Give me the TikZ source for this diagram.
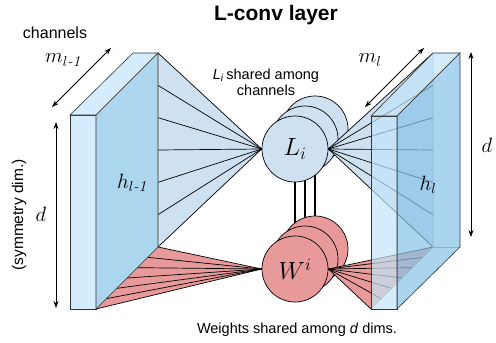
\documentclass[tikz,border=0pt]{standalone}
\usepackage{amsmath}
\usepackage{fontspec}
\setsansfont{Liberation Sans}
\usetikzlibrary{arrows.meta}
\definecolor{slablight}{HTML}{D4ECFB}
\definecolor{slabdark}{HTML}{ACD5EE}
\definecolor{rslablight}{HTML}{C2E4F9}
\definecolor{rslabdark}{HTML}{88C3E7}
\definecolor{fanblue}{HTML}{CFE0F1}
\definecolor{fanred}{HTML}{E8999A}
\begin{document}
\begin{tikzpicture}[x=1pt,y=-1pt,
  ball/.style={circle,draw=black,line width=0.7pt,minimum size=66pt,inner sep=0pt},
  lball/.style={ball,fill=fanblue},
  wball/.style={ball,fill=fanred},
  fanline/.style={line width=0.7pt,draw=black},
  link/.style={line width=1.3pt,draw=black},
  edge/.style={line width=0.6pt,draw=black!80},
  dim/.style={{Stealth[length=7pt,width=5pt]}-{Stealth[length=7pt,width=5pt]},line width=0.8pt},
  lbl/.style={font=\sffamily\fontsize{14.5}{16}\selectfont,align=center},
  mth/.style={font=\fontsize{22}{22}\selectfont},
  cmth/.style={font=\fontsize{24}{24}\selectfont}
]
\useasboundingbox (0,0) rectangle (496,343);

% circle positions
\coordinate (pL1) at (295,149);
\coordinate (pW1) at (295,269);
\coordinate (Lc3) at (315,129); \coordinate (Lc2) at (305,139);
\coordinate (Wc3) at (315,249); \coordinate (Wc2) at (305,259);
\node[ball,draw=none] (L3) at (Lc3) {};
\node[ball,draw=none] (L2) at (Lc2) {};
\node[ball,draw=none] (L1) at (pL1) {};
\node[ball,draw=none] (W3) at (Wc3) {};
\node[ball,draw=none] (W2) at (Wc2) {};
\node[ball,draw=none] (W1) at (pW1) {};

% links between L and W (behind circles)
\draw[link] (L1.south) -- (W1.north);
\draw[link] (L2.south) -- (W2.north);
\draw[link] (L3.south) -- (W3.north);

% back circles
\node[lball] at (Lc3) {};
\node[lball] at (Lc2) {};
\node[wball] at (Wc3) {};
\node[wball] at (Wc2) {};

% right fans (behind translucent slab)
\fill[fanblue] (L1.east) -- (433,53) -- (433,247) -- cycle;
\foreach \k in {0,...,6}{
  \coordinate (rb\k) at (433,{53+\k*194/6});
  \draw[fanline] (L1.east) -- (rb\k);
}
\fill[fanred] (W1.east) -- (433,247) -- (371,309) -- cycle;
\foreach \k in {0,...,6}{
  \coordinate (rr\k) at ({433-\k*62/6},{247+\k*62/6});
  \draw[fanline] (W1.east) -- (rr\k);
}

% front circles
\node[lball,cmth] (Lf) at (pL1) {$L_i$};
\node[wball,cmth] (Wf) at (pW1) {$W^i$};

% left fans
\fill[fanblue] (158,53) -- (L1.west) -- (158,247) -- cycle;
\foreach \k in {0,...,6}{
  \coordinate (lb\k) at (158,{53+\k*194/6});
  \draw[fanline] (lb\k) -- (L1.west);
}
\fill[fanred] (158,247) -- (W1.west) -- (96,309) -- cycle;
\foreach \k in {0,...,6}{
  \coordinate (lr\k) at ({158-\k*62/6},{247+\k*62/6});
  \draw[fanline] (lr\k) -- (W1.west);
}

% left slab
\filldraw[fill=slablight,edge] (70,115) -- (96,115) -- (96,309) -- (70,309) -- cycle;
\filldraw[fill=slablight,edge] (70,115) -- (133,53) -- (158,53) -- (96,115) -- cycle;
\filldraw[fill=slabdark,edge] (96,115) -- (158,53) -- (158,247) -- (96,309) -- cycle;

% right slab (translucent)
\draw[line width=0.5pt,draw=black!45] (433,53) -- (433,247) -- (371,309);
\draw[line width=0.5pt,draw=black!45] (433,247) -- (460,247);
\filldraw[fill=rslablight,fill opacity=0.7,edge] (371,116) -- (397,116) -- (397,309) -- (371,309) -- cycle;
\filldraw[fill=rslablight,fill opacity=0.7,edge] (371,116) -- (433,53) -- (460,53) -- (397,116) -- cycle;
\filldraw[fill=rslabdark,fill opacity=0.7,edge] (397,116) -- (460,53) -- (460,247) -- (397,309) -- cycle;

% labels
\node[font=\sffamily\bfseries\fontsize{21}{21}\selectfont] (title) at (276,15) {L-conv layer};
\node[lbl,font=\sffamily\fontsize{16}{16}\selectfont] (chan) at (55,33) {channels};
\node[mth] (mlm1) at (63,60) {$m_{l\text{\itshape -1}}$};
\node[mth] (ml) at (370,60) {$m_l$};
\node[mth] (hlm1) at (132,183) {$h_{l\text{\itshape -1}}$};
\node[mth] (hl) at (428,185) {$h_l$};
\node[mth] (dl) at (41,214) {$d$};
\node[mth] (dr) at (487,145) {$d$};
\node[lbl,font=\sffamily\fontsize{15.5}{16}\selectfont,rotate=90] (sym) at (19,215) {(symmetry dim.)};
\node[lbl] (Lshared) at (266,82) {\textit{L}\textsubscript{\textit{i}}\,shared among\\channels};
\node[lbl] (wshared) at (297,330) {Weights shared among \textit{d} dims.};

% dimension arrows
\coordinate (a1) at (52,107); \coordinate (a2) at (111,48);
\draw[dim] (a1) -- (a2);
\coordinate (b1) at (365,107); \coordinate (b2) at (424,48);
\draw[dim] (b1) -- (b2);
\coordinate (c1) at (56,122); \coordinate (c2) at (56,308);
\draw[dim] (c1) -- (c2);
\coordinate (e1) at (471,52); \coordinate (e2) at (471,237);
\draw[dim] (e1) -- (e2);
\end{tikzpicture}
\end{document}
